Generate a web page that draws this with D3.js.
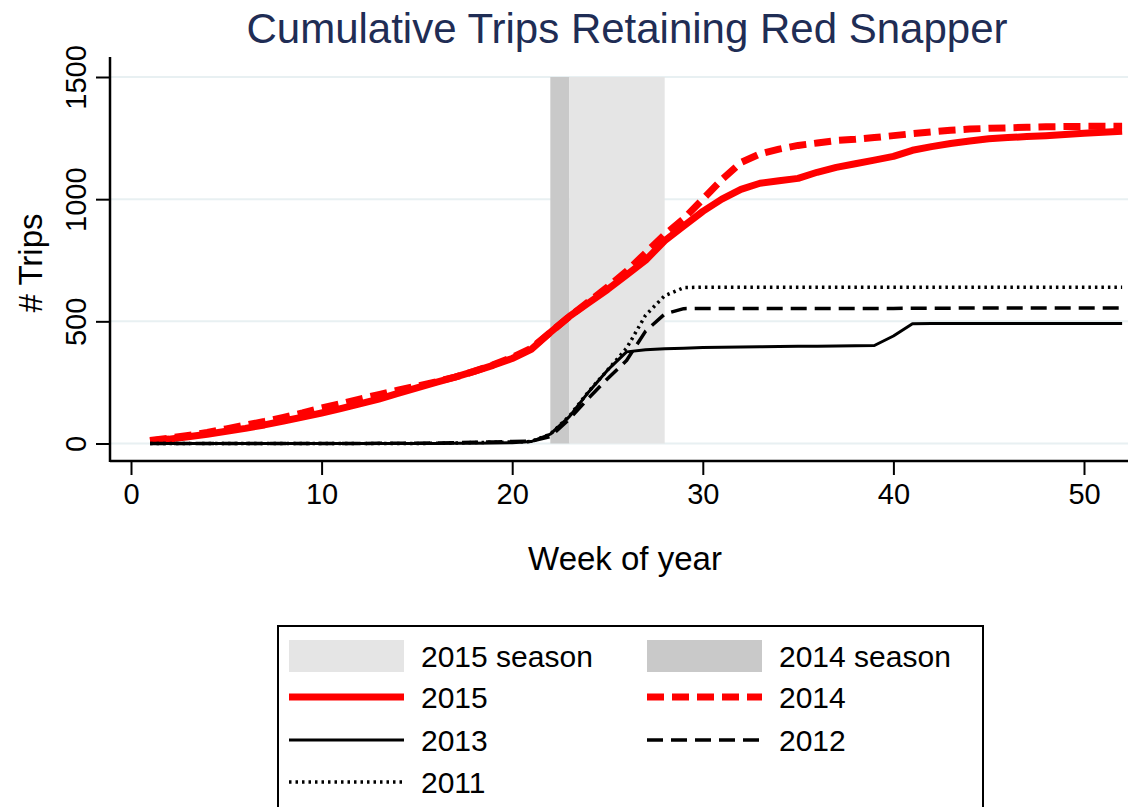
<!DOCTYPE html>
<html>
  <head>
    <meta charset="utf-8">
    <title>Cumulative Trips Retaining Red Snapper</title>
    <script src="https://d3js.org/d3.v7.min.js"></script>
    <style>
      body { margin: 0; background: white; }
      svg text { font-family: "Liberation Sans", Arial, Helvetica, sans-serif; }
    </style>
  </head>
  <body>
    <svg id="chart" width="1128" height="807"></svg>
    <script>
      // data: cumulative trips per week of year
      var weeks = [1,2,3,4,5,6,7,8,9,10,11,12,13,14,15,16,17,18,19,20,21,22,23,24,25,26,
                   27,28,29,30,31,32,33,34,35,36,37,38,39,40,41,42,43,44,45,46,47,48,49,50,51,52];
      var trips2015 = [10,18,28,38,50,62,76,92,108,125,143,162,182,205,228,250,272,295,320,348,385,455,
                       520,575,630,690,750,830,890,950,1000,1040,1065,1075,1085,1110,1130,1145,1160,1175,1200,1215,
                       1228,1238,1247,1252,1256,1260,1265,1270,1274,1278];
      var trips2014 = [12,22,33,45,60,75,90,107,125,145,163,182,200,218,235,252,272,295,322,352,390,455,
                       520,580,640,705,780,855,920,1000,1080,1150,1185,1205,1220,1230,1240,1245,1252,1260,1268,1275,
                       1282,1287,1290,1292,1294,1296,1297,1298,1298,1298];
      var trips2013 = [0,0,0,0,0,0,0,0,0,0,0,0,0,0,0,0,1,1,2,3,8,38,
                       110,210,300,375,384,388,390,393,394,395,396,397,398,398,399,400,401,440,490,491,
                       491,491,491,491,491,491,491,491,491,491];
      var trips2012 = [0,0,0,0,0,0,0,0,0,0,0,0,1,1,1,2,3,5,6,8,10,28,
                       100,185,265,340,460,530,552,553,553,553,553,553,553,553,553,553,553,553,554,554,
                       554,555,555,555,555,555,555,555,555,555];
      var trips2011 = [0,0,0,0,0,0,0,0,0,0,0,0,0,0,0,1,2,4,5,6,8,38,
                       112,212,300,390,525,605,638,640,640,640,640,640,640,640,640,640,640,640,640,640,
                       640,640,640,640,640,640,640,640,640,640];
      var season2015 = [23, 28];
      var season2014 = [22, 23];
      var xTicks = [0, 10, 20, 30, 40, 50];
      var yTicks = [0, 500, 1000, 1500];

      var series = [
        { name: "2015", values: trips2015, colour: "#ff0000", width: 7, dash: null },
        { name: "2014", values: trips2014, colour: "#ff0000", width: 7, dash: "17 8" },
        { name: "2013", values: trips2013, colour: "#000000", width: 3, dash: null },
        { name: "2012", values: trips2012, colour: "#000000", width: 3.5, dash: "16 8" },
        { name: "2011", values: trips2011, colour: "#000000", width: 3.5, dash: "2.5 4" }
      ];

      svg = d3.select("#chart");

      x = d3.scaleLinear().domain([0, 50]).range([131, 1084]);
      y = d3.scaleLinear().domain([0, 1500]).range([443.5, 77]);

      // gridlines
      svg.append("g")
        .selectAll("line")
          .data(yTicks)
        .enter().append("line")
          .attr("x1", 110).attr("x2", 1128)
          .attr("y1", function(d) { return y(d); })
          .attr("y2", function(d) { return y(d); })
          .attr("stroke", "#e8f0f2")
          .attr("stroke-width", 2);

      // season bands
      svg.append("rect")
        .attr("x", x(season2014[0])).attr("width", x(season2014[1]) - x(season2014[0]))
        .attr("y", y(1500)).attr("height", y(0) - y(1500))
        .attr("fill", "#c9c9c9");
      svg.append("rect")
        .attr("x", x(season2015[0])).attr("width", x(season2015[1]) - x(season2015[0]))
        .attr("y", y(1500)).attr("height", y(0) - y(1500))
        .attr("fill", "#e5e5e5");

      // lines
      line = d3.line()
        .x(function(d, i) { return x(weeks[i]); })
        .y(function(d) { return y(d); });
      svg.append("g")
        .selectAll("path")
          .data(series)
        .enter().append("path")
          .attr("d", function(d) { return line(d.values); })
          .attr("fill", "none")
          .attr("stroke", function(d) { return d.colour; })
          .attr("stroke-width", function(d) { return d.width; })
          .attr("stroke-dasharray", function(d) { return d.dash; })
          .attr("stroke-linejoin", "round");

      // axes
      xAxis = d3.axisBottom(x).tickValues(xTicks).tickSize(14).tickPadding(8);
      xg = svg.append("g")
        .attr("transform", "translate(0, 461)")
        .call(xAxis);
      xg.select(".domain").attr("d", "M110,0H1128").attr("stroke-width", 2.5);
      xg.selectAll(".tick line").attr("stroke-width", 2);
      xg.selectAll(".tick text")
        .attr("font-size", 29)
        .attr("font-family", "Liberation Sans, Arial, sans-serif")
        .attr("fill", "#000");

      yAxis = d3.axisLeft(y).tickValues(yTicks).tickFormat(d3.format("d")).tickSize(14).tickPadding(8);
      yg = svg.append("g")
        .attr("transform", "translate(110, 0)")
        .call(yAxis);
      yg.select(".domain").attr("d", "M0,57V462").attr("stroke-width", 2.5);
      yg.selectAll(".tick line").attr("stroke-width", 2);
      yg.selectAll(".tick text")
        .attr("font-size", 29)
        .attr("font-family", "Liberation Sans, Arial, sans-serif")
        .attr("fill", "#000")
        .attr("text-anchor", "middle")
        .attr("x", 0).attr("dy", 0)
        .attr("transform", "translate(-24, 0) rotate(-90)");

      // titles
      svg.append("text")
        .attr("x", 627).attr("y", 43)
        .attr("text-anchor", "middle")
        .attr("font-size", 42)
        .attr("fill", "#1f2d55")
        .text("Cumulative Trips Retaining Red Snapper");
      svg.append("text")
        .attr("x", 625).attr("y", 570)
        .attr("text-anchor", "middle")
        .attr("font-size", 33)
        .text("Week of year");
      svg.append("text")
        .attr("transform", "translate(42, 263) rotate(-90)")
        .attr("text-anchor", "middle")
        .attr("font-size", 33)
        .text("# Trips");

      // legend
      legend = svg.append("g");
      legend.append("rect")
        .attr("x", 278).attr("y", 626)
        .attr("width", 705).attr("height", 200)
        .attr("fill", "white")
        .attr("stroke", "black")
        .attr("stroke-width", 2);
      legendItems = [
        { label: "2015 season", type: "box", fill: "#e5e5e5", col: 0, row: 0 },
        { label: "2014 season", type: "box", fill: "#c9c9c9", col: 1, row: 0 },
        { label: "2015", type: "line", s: series[0], col: 0, row: 1 },
        { label: "2014", type: "line", s: series[1], col: 1, row: 1 },
        { label: "2013", type: "line", s: series[2], col: 0, row: 2 },
        { label: "2012", type: "line", s: series[3], col: 1, row: 2 },
        { label: "2011", type: "line", s: series[4], col: 0, row: 3 }
      ];
      rowY = [656, 697, 740, 782];
      colX = [289, 647];
      legendItems.forEach(function(d) {
        let cx = colX[d.col], cy = rowY[d.row];
        if (d.type == "box") {
          legend.append("rect")
            .attr("x", cx).attr("y", cy - 16)
            .attr("width", 115).attr("height", 32)
            .attr("fill", d.fill);
        } else {
          legend.append("line")
            .attr("x1", cx).attr("x2", cx + 115)
            .attr("y1", cy).attr("y2", cy)
            .attr("stroke", d.s.colour)
            .attr("stroke-width", d.s.width)
            .attr("stroke-dasharray", d.s.dash);
        }
        legend.append("text")
          .attr("x", cx + 132).attr("y", cy + 11)
          .attr("font-size", 30)
          .text(d.label);
      });
    </script>
  </body>
</html>
